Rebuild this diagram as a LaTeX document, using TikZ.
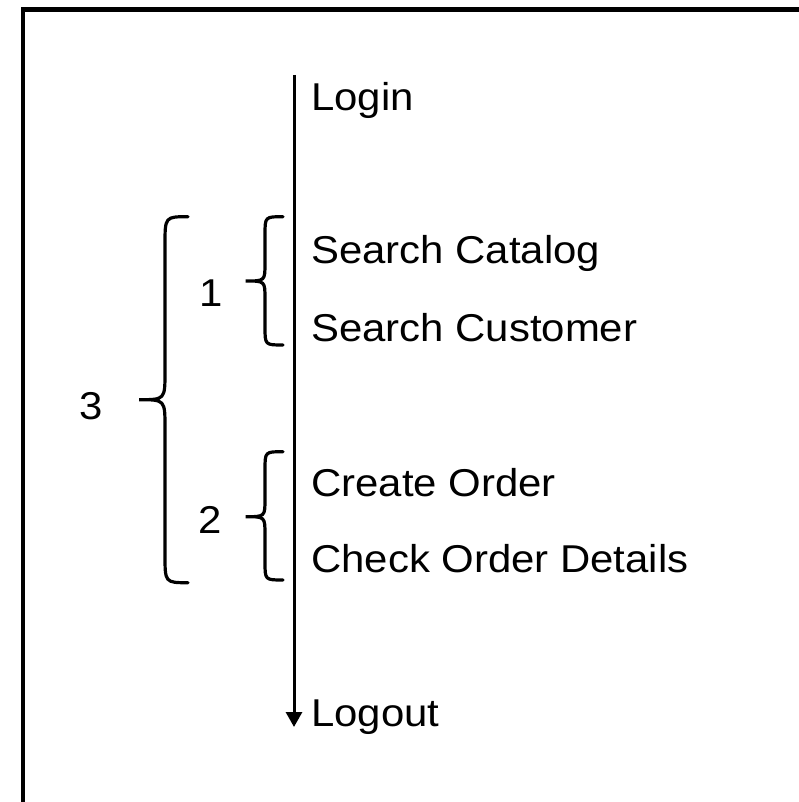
\documentclass[tikz,border=0pt]{standalone}
\usepackage{fontspec}
\usepackage{graphicx}
\setmainfont{Liberation Sans}
\usetikzlibrary{arrows.meta}
\newcommand{\wtxt}[1]{\scalebox{1.08}[1]{#1}}
\tikzset{
  lbl/.style={inner sep=0pt, anchor=base west, font=\fontsize{38.8}{42}\selectfont},
  num/.style={inner sep=0pt, anchor=base, font=\fontsize{38.8}{42}\selectfont},
  brc/.style={line width=3.2pt, line cap=round},
  frm/.style={line width=4.3pt},
  flow/.style={line width=3pt, -{Triangle[length=15pt,width=16pt]}}
}
\begin{document}
\begin{tikzpicture}[x=1pt,y=-1pt]
\useasboundingbox (0,0) rectangle (799,802);
\clip (0,0) rectangle (799,802);
% frame
\draw[frm] (23,820) -- (23,9.5) -- (820,9.5);
% timeline
\coordinate (top) at (294,75);
\coordinate (bot) at (294,727);
\draw[flow] (top) -- (bot);
% texts
\node[lbl] (login)  at (311,110.5) {\wtxt{Login}};
\node[lbl] (sc)     at (311,263.5) {\wtxt{Search Catalog}};
\node[lbl] (scu)    at (311,341)   {\wtxt{Search Customer}};
\node[lbl] (co)     at (311,496)   {\wtxt{Create Order}};
\node[lbl] (cod)    at (311,572.5) {\wtxt{Check Order Details}};
\node[lbl] (logout) at (311,726.5) {\wtxt{Logout}};
% numbers
\node[num] (n1) at (211,306) {\wtxt{1}};
\node[num] (n2) at (210,533) {\wtxt{2}};
\node[num] (n3) at (91,419) {\wtxt{3}};
% brace 1
\draw[brc] (283,216.7) .. controls (265,216.7) .. (265,234.7) -- (265,263)
  .. controls (265,281) .. (245.7,281) .. controls (265,281) .. (265,299)
  -- (265,327) .. controls (265,345) .. (283,345);
% brace 2
\draw[brc] (283,451.7) .. controls (265,451.7) .. (265,469.7) -- (265,498.7)
  .. controls (265,516.7) .. (245.7,516.7) .. controls (265,516.7) .. (265,534.7)
  -- (265,562) .. controls (265,580) .. (283,580);
% brace 3
\draw[brc] (188,216.7) .. controls (165,216.7) .. (165,244.7) -- (165,371.7)
  .. controls (165,399.7) .. (139,399.7) .. controls (165,399.7) .. (165,427.7)
  -- (165,554.7) .. controls (165,582.7) .. (188,582.7);
\end{tikzpicture}
\end{document}
